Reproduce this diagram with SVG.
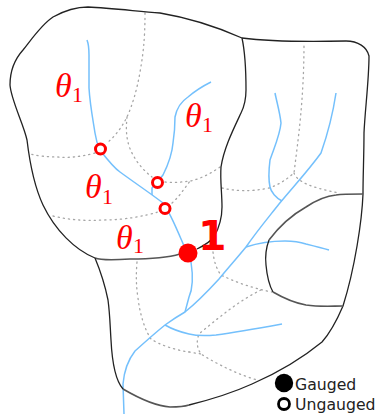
<svg xmlns="http://www.w3.org/2000/svg" width="378" height="414" viewBox="0 0 378 414">
<style>
.b{fill:none;stroke:#222;stroke-width:1.3}
.g{fill:none;stroke:#555;stroke-width:1.6}
.r{fill:none;stroke:#74c0fc;stroke-width:1.5}
.d{fill:none;stroke:#a6a6a6;stroke-width:1.3;stroke-dasharray:1.2 4;stroke-linecap:round}
.u{fill:#fff;stroke:#f00;stroke-width:3}
.t{font-family:"Liberation Serif",serif;font-style:italic;font-size:34px;fill:#f00}
.s{font-family:"Liberation Serif",serif;font-size:22px;fill:#f00}
.l{font-family:"DejaVu Sans",sans-serif;font-size:15.7px;fill:#222}
</style>
<rect width="378" height="414" fill="#fff"/>
<g id="connectors">
<path class="d" d="M145 13C145 40 143 55 140 72C137 90 132 106 127 117C121 129 114 137 107 143"/>
<path class="d" d="M95 153C80 157 68 158 58 157C48 157 38 156 30 154"/>
<path class="d" d="M127 117C126 128 126 136 129 146C134 160 143 170 152 177"/>
<path class="d" d="M165 182C175 183 182 182 190 181C200 179 210 174 220 167"/>
<path class="d" d="M172 203C179 197 184 189 190 181"/>
<path class="d" d="M222 188C235 191 250 192 269 188C278 185 286 180 294 173C298 140 304 100 304 43"/>
<path class="d" d="M294 173C297 181 308 187 339 193"/>
<path class="d" d="M53 216C70 220 85 221 102 220C125 220 145 216 158 212"/>
<path class="d" d="M137 262C136 275 136 285 138 298C140 315 145 330 151 339C160 345 175 350 189 352"/>
<path class="d" d="M213 252C214 262 217 270 221 275C235 282 252 288 272 292"/>
<path class="d" d="M261 290C240 300 218 318 199 334C196 342 197 348 201 354C220 366 240 375 257 380"/>
<path class="d" d="M189 352L201 354"/>
<path class="r" d="M87 40C89 45 89 48 89 55L89 88C90 105 93 120 95 133C96 140 98 146 100 150C107 159 113 167 120 172C135 183 150 193 163 203C170 212 178 232 184 246"/>
<path class="r" d="M191 262C193 275 193 288 189 297L185 312"/>
<path class="r" d="M152 195L152 188L163 175C168 165 172 155 173 143C175 130 175 125 175 117C177 107 182 101 188 97C195 91 203 86 211 82"/>
<path class="r" d="M124 414L123 384C124 372 128 360 135 351C145 342 155 333 165 325C172 320 178 316 185 312C195 304 208 291 219 279C228 268 237 258 246 247C257 231 268 218 279 204C293 187 308 171 321 153C328 133 333 113 336 93"/>
<path class="r" d="M282 201C276 198 271 192 270 187C268 178 269 168 270 160C274 148 280 135 281 123C280 113 277 103 275 93"/>
<path class="r" d="M246 247C258 243 270 241 285 241C295 241 303 243 306 244C314 246 322 248 329 250"/>
<path class="r" d="M165 325C172 329 180 332 189 334C197 336 205 336 216 335C238 332 260 328 282 324"/>
</g>
<g id="catchments">
<path class="b" d="M242 38C215 26 190 18 160 13C135 11 110 8 88 7C75 7 62 12 53 17C42 24 31 40 23 50C14 60 10 72 10 85C11 100 24 125 27 140C30 165 36 190 43 205C55 230 75 250 95 258"/>
<path class="g" d="M95 258C100 260 115 260 130 259C150 259 170 257 180 254"/>
<path class="b" d="M197 249C205 245 211 241 214 237C219 228 222 218 222 207C222 193 220 180 221 167C224 148 233 130 241 113C245 105 246 97 246 90C246 72 245 52 242 38"/>
<path class="b" d="M242 38C265 41 300 42 346 41C358 41 367 47 369 56C369 80 365 110 364 133C364 155 363 175 363 194C362 220 355 268 343 306C337 320 330 333 322 342C300 360 275 374 252 384C230 394 205 401 189 405"/>
<path class="g" d="M189 405C183 407 175 407 170 407C155 406 135 396 123 389"/>
<path class="b" d="M123 389C115 380 112 360 111 340C110 325 110 315 108 300C105 285 100 270 95 258"/>
<path class="g" d="M363 194C350 194 342 194 336 195C325 196 315 201 306 207C290 216 278 228 269 240"/>
<path class="b" d="M269 240C266 248 265 256 266 265C267 276 269 285 273 292"/>
<path class="g" d="M273 292C285 299 295 303 306 305C320 307 332 306 343 306"/>
</g>
<g id="node-gauge"><circle cx="188" cy="253" r="9.5" fill="#f00"/></g>
<g id="node-u1"><circle class="u" cx="100.500" cy="149" r="5"/></g>
<g id="node-u2"><circle class="u" cx="157.500" cy="182.500" r="5"/></g>
<g id="node-u3"><circle class="u" cx="165" cy="208.500" r="5"/></g>
<g id="labels">
<text x="198" y="250" font-family="DejaVu Sans, sans-serif" font-weight="700" font-size="41" fill="#f00">1</text>
<text class="t" x="55" y="97">θ</text><text class="s" x="72" y="102">1</text>
<text class="t" x="85" y="198">θ</text><text class="s" x="102" y="204">1</text>
<text class="t" x="116" y="249">θ</text><text class="s" x="133" y="253">1</text>
<text class="t" x="185" y="127">θ</text><text class="s" x="202" y="132">1</text>
</g>
<g id="legend">
<circle cx="284" cy="383" r="9.200" fill="#000"/>
<circle cx="284" cy="404" r="5.500" fill="#fff" stroke="#000" stroke-width="2.800"/>
<text class="l" x="295" y="390">Gauged</text>
<text class="l" x="295" y="410">Ungauged</text>
</g>
</svg>
